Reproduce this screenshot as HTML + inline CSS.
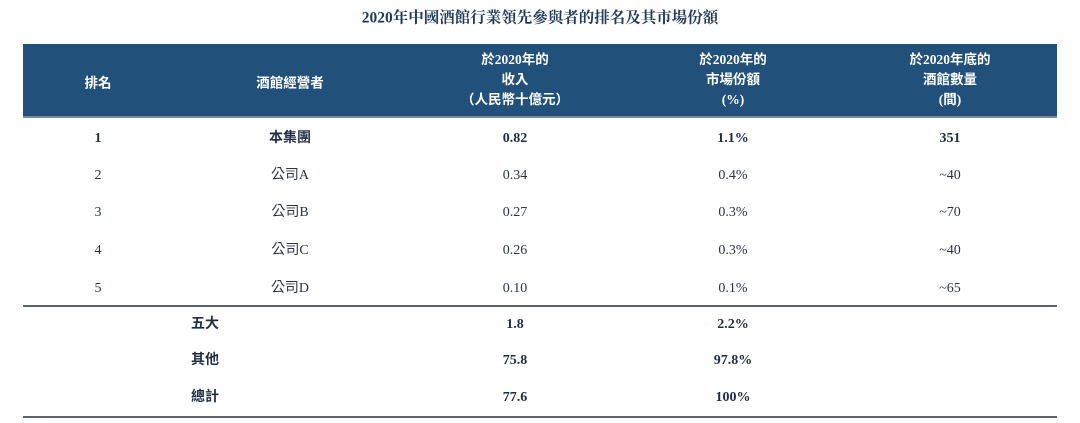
<!DOCTYPE html>
<html><head><meta charset="utf-8">
<style>
body{margin:0;width:1080px;height:423px;background:#fff;position:relative;overflow:hidden;font-family:"Liberation Serif","Noto Serif CJK SC","Noto Sans CJK TC",serif;color:#2b3445}
.t{position:absolute;transform:translate(-50%,-50%);white-space:nowrap;font-size:14px;line-height:1}
.h{color:#fff;font-weight:bold;font-size:13.5px;font-family:"Liberation Serif","Noto Sans CJK TC",sans-serif}
.b{font-weight:bold;color:#1f2d44}
.cjk{font-family:"Liberation Serif","Noto Sans CJK TC",sans-serif}
</style></head><body>
<div class="t b" style="left:540px;top:18px;font-size:15.5px;color:#1f3a5c">2020年中國酒館行業領先參與者的排名及其市場份額</div>
<div style="position:absolute;left:23px;top:44px;width:1034px;height:72px;background:#21507a;border-bottom:2px solid #7f8a96"></div>
<div class="t h" style="left:98px;top:83px">排名</div>
<div class="t h" style="left:290px;top:83px">酒館經營者</div>
<div class="t h" style="left:515px;top:80px;line-height:20px;text-align:center">於2020年的<br>收入<br>（人民幣十億元）</div>
<div class="t h" style="left:733px;top:80px;line-height:20px;text-align:center">於2020年的<br>市場份額<br>(%)</div>
<div class="t h" style="left:950px;top:80px;line-height:20px;text-align:center">於2020年底的<br>酒館數量<br>(間)</div>

<div class="t b" style="left:98px;top:139px">1</div>
<div class="t b cjk" style="left:290px;top:139px">本集團</div>
<div class="t b" style="left:515px;top:139px">0.82</div>
<div class="t b" style="left:733px;top:139px">1.1%</div>
<div class="t b" style="left:950px;top:139px">351</div>

<div class="t" style="left:98px;top:176px">2</div>
<div class="t cjk" style="left:290px;top:176px">公司A</div>
<div class="t" style="left:515px;top:176px">0.34</div>
<div class="t" style="left:733px;top:176px">0.4%</div>
<div class="t" style="left:950px;top:176px">~40</div>

<div class="t" style="left:98px;top:213px">3</div>
<div class="t cjk" style="left:290px;top:213px">公司B</div>
<div class="t" style="left:515px;top:213px">0.27</div>
<div class="t" style="left:733px;top:213px">0.3%</div>
<div class="t" style="left:950px;top:213px">~70</div>

<div class="t" style="left:98px;top:251px">4</div>
<div class="t cjk" style="left:290px;top:251px">公司C</div>
<div class="t" style="left:515px;top:251px">0.26</div>
<div class="t" style="left:733px;top:251px">0.3%</div>
<div class="t" style="left:950px;top:251px">~40</div>

<div class="t" style="left:98px;top:289px">5</div>
<div class="t cjk" style="left:290px;top:289px">公司D</div>
<div class="t" style="left:515px;top:289px">0.10</div>
<div class="t" style="left:733px;top:289px">0.1%</div>
<div class="t" style="left:950px;top:289px">~65</div>

<div style="position:absolute;left:23px;top:305px;width:1034px;height:2px;background:#5a6470"></div>

<div class="t b cjk" style="left:205px;top:325px">五大</div>
<div class="t b" style="left:515px;top:325px">1.8</div>
<div class="t b" style="left:733px;top:325px">2.2%</div>
<div class="t b cjk" style="left:205px;top:361px">其他</div>
<div class="t b" style="left:515px;top:361px">75.8</div>
<div class="t b" style="left:733px;top:361px">97.8%</div>
<div class="t b cjk" style="left:205px;top:398px">總計</div>
<div class="t b" style="left:515px;top:398px">77.6</div>
<div class="t b" style="left:733px;top:398px">100%</div>

<div style="position:absolute;left:23px;top:416px;width:1034px;height:2px;background:#5a6470"></div>
</body></html>
